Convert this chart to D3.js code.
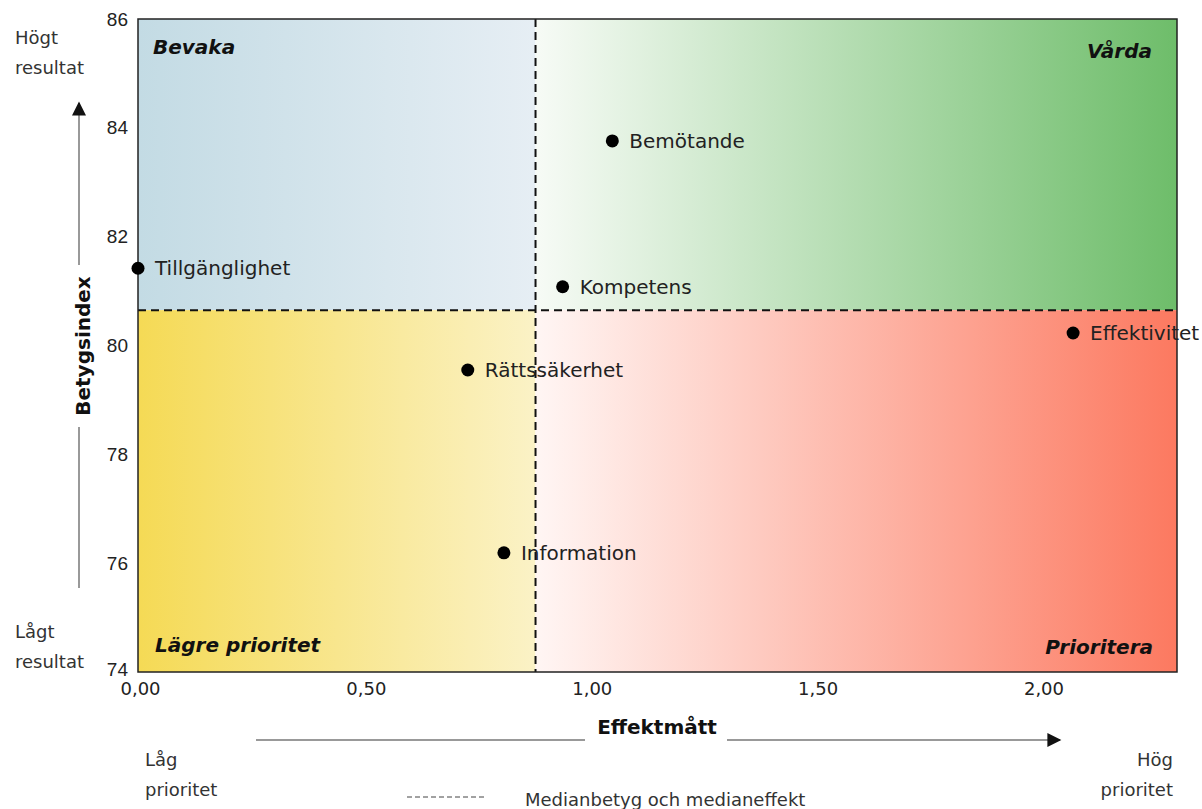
<!DOCTYPE html>
<html lang="sv">
<head>
<meta charset="UTF-8">
<title>Prioriteringsmatris</title>
<script src="https://d3js.org/d3.v7.min.js"></script>
<style>
  body { margin: 0; background: #fff; }
  svg text { font-family: "DejaVu Sans", Verdana, sans-serif; fill: #222; }
  .ytick text { font-family: "Liberation Sans", Arial, sans-serif; }
</style>
</head>
<body>
<svg width="1202" height="809"></svg>
<script>
// data
var categories = ["Tillgänglighet", "Bemötande", "Kompetens", "Effektivitet", "Rättssäkerhet", "Information"];
var effekt     = [0.00, 1.05, 0.94, 2.07, 0.73, 0.81];
var betyg      = [81.42, 83.76, 81.08, 80.23, 79.55, 76.19];
var medianEffekt = 0.88;
var medianBetyg  = 80.65;
var xTicks = [0, 0.5, 1, 1.5, 2];
var yTicks = [74, 76, 78, 80, 82, 84, 86];
var quadrantNames = ["Bevaka", "Vårda", "Lägre prioritet", "Prioritera"];

var svg = d3.select("svg");
var plotLeft = 138, plotRight = 1177, plotTop = 19, plotBottom = 672;

var x = d3.scaleLinear().domain([0, 2.3]).range([plotLeft, plotRight]);
var y = d3.scaleLinear().domain([74, 86]).range([plotBottom, plotTop]);

var sv = d3.formatLocale({decimal: ",", thousands: " ", grouping: [3], currency: ["", " kr"]});
var fmt = sv.format(".2f");

// gradients for the four quadrants
var defs = svg.append("defs");
function grad(id, c0, c1) {
    var g = defs.append("linearGradient").attr("id", id)
        .attr("x1", "0").attr("x2", "1").attr("y1", "0").attr("y2", "0");
    g.append("stop").attr("offset", "0").attr("stop-color", c0);
    g.append("stop").attr("offset", "1").attr("stop-color", c1);
}
grad("gTL", "#c3dbe4", "#e6eef4");
grad("gTR", "#f7fbf6", "#6ebd6a");
grad("gBL", "#f5da55", "#fbf2c6");
grad("gBR", "#fff6f4", "#fc7960");

var mx = x(medianEffekt), my = y(medianBetyg);
var quads = [
    {x0: plotLeft, x1: mx, y0: plotTop, y1: my, fill: "url(#gTL)"},
    {x0: mx, x1: plotRight, y0: plotTop, y1: my, fill: "url(#gTR)"},
    {x0: plotLeft, x1: mx, y0: my, y1: plotBottom, fill: "url(#gBL)"},
    {x0: mx, x1: plotRight, y0: my, y1: plotBottom, fill: "url(#gBR)"}
];
svg.selectAll("rect.quad").data(quads).enter().append("rect")
    .attr("class", "quad")
    .attr("x", function(d) { return d.x0; })
    .attr("y", function(d) { return d.y0; })
    .attr("width", function(d) { return d.x1 - d.x0; })
    .attr("height", function(d) { return d.y1 - d.y0; })
    .attr("fill", function(d) { return d.fill; });

// median lines
svg.append("line").attr("x1", mx).attr("x2", mx).attr("y1", plotTop).attr("y2", plotBottom)
    .attr("stroke", "#111").attr("stroke-width", 2).attr("stroke-dasharray", "8,5");
svg.append("line").attr("x1", plotLeft).attr("x2", plotRight).attr("y1", my).attr("y2", my)
    .attr("stroke", "#111").attr("stroke-width", 2).attr("stroke-dasharray", "8,5");

// frame
svg.append("rect").attr("x", plotLeft).attr("y", plotTop)
    .attr("width", plotRight - plotLeft).attr("height", plotBottom - plotTop)
    .attr("fill", "none").attr("stroke", "#222").attr("stroke-width", 1.5);

// quadrant names
var qpos = [
    {x: 153, y: 54, anchor: "start"},
    {x: 1152, y: 58, anchor: "end"},
    {x: 155, y: 652, anchor: "start"},
    {x: 1153, y: 654, anchor: "end"}
];
svg.selectAll("text.qname").data(quadrantNames).enter().append("text")
    .attr("class", "qname")
    .attr("x", function(d, i) { return qpos[i].x; })
    .attr("y", function(d, i) { return qpos[i].y; })
    .attr("text-anchor", function(d, i) { return qpos[i].anchor; })
    .style("font-size", "20px").style("font-weight", "bold").style("font-style", "italic")
    .style("fill", "#111")
    .text(function(d) { return d; });

// axes
var yAxis = svg.append("g").attr("class", "ytick")
    .attr("transform", "translate(" + plotLeft + ",0)")
    .call(d3.axisLeft(y).tickValues(yTicks).tickSize(0).tickPadding(10).tickFormat(d3.format("d")));
yAxis.select(".domain").remove();
yAxis.selectAll("text").style("font-size", "19px").style("fill", "#222");
// the lowest label sits a little higher so it clears the 0,00 label
yAxis.selectAll(".tick").filter(function(d) { return d === 74; }).select("text").attr("dy", "0.2em");

var xAxis = svg.append("g")
    .attr("transform", "translate(0," + plotBottom + ")")
    .call(d3.axisBottom(x).tickValues(xTicks).tickSize(0).tickPadding(10).tickFormat(fmt));
xAxis.select(".domain").remove();
xAxis.selectAll("text").style("font-size", "18px").style("fill", "#222").attr("dx", "2");

// points
var pts = categories.map(function(c, i) { return {name: c, e: effekt[i], b: betyg[i]}; });
svg.selectAll("circle.pt").data(pts).enter().append("circle")
    .attr("class", "pt")
    .attr("cx", function(d) { return x(d.e); })
    .attr("cy", function(d) { return y(d.b); })
    .attr("r", 6.5).attr("fill", "#000");
svg.selectAll("text.lbl").data(pts).enter().append("text")
    .attr("class", "lbl")
    .attr("x", function(d) { return x(d.e) + 17; })
    .attr("y", function(d) { return y(d.b) + 7; })
    .style("font-size", "20px")
    .text(function(d) { return d.name; });

// arrows
defs.append("marker").attr("id", "arrow").attr("viewBox", "0 0 10 10")
    .attr("refX", 9).attr("refY", 5)
    .attr("markerUnits", "userSpaceOnUse").attr("orient", "auto")
    .attr("markerWidth", 16).attr("markerHeight", 14)
    .append("path").attr("d", "M0,0 L10,5 L0,10 z").attr("fill", "#111");

svg.append("line").attr("x1", 79).attr("x2", 79).attr("y1", 588).attr("y2", 427).attr("stroke", "#777").attr("stroke-width", 1.5);
svg.append("line").attr("x1", 79).attr("x2", 79).attr("y1", 265).attr("y2", 103).attr("stroke", "#777").attr("stroke-width", 1.5)
    .attr("marker-end", "url(#arrow)");
svg.append("text").attr("transform", "translate(90,346) rotate(-90)")
    .attr("text-anchor", "middle").style("font-size", "20px").style("font-weight", "bold").style("fill", "#111")
    .text("Betygsindex");

svg.append("line").attr("x1", 256).attr("x2", 585).attr("y1", 740).attr("y2", 740).attr("stroke", "#777").attr("stroke-width", 1.5);
svg.append("line").attr("x1", 727).attr("x2", 1060).attr("y1", 740).attr("y2", 740).attr("stroke", "#777").attr("stroke-width", 1.5)
    .attr("marker-end", "url(#arrow)");
svg.append("text").attr("x", 657).attr("y", 734)
    .attr("text-anchor", "middle").style("font-size", "20px").style("font-weight", "bold").style("fill", "#111")
    .text("Effektmått");

// end annotations
function twoLine(xp, y0, lines, anchor) {
    var t = svg.append("text").attr("text-anchor", anchor).style("font-size", "18px").style("fill", "#333");
    lines.forEach(function(s, i) {
        t.append("tspan").attr("x", xp).attr("y", y0 + i * 30).text(s);
    });
}
twoLine(15, 44, ["Högt", "resultat"], "start");
twoLine(15, 638, ["Lågt", "resultat"], "start");
twoLine(145, 766, ["Låg", "prioritet"], "start");
twoLine(1173, 766, ["Hög", "prioritet"], "end");

// legend
svg.append("line").attr("x1", 407).attr("x2", 487).attr("y1", 797).attr("y2", 797)
    .attr("stroke", "#444").attr("stroke-width", 1).attr("stroke-dasharray", "5,3");
svg.append("text").attr("x", 525).attr("y", 806).style("font-size", "18px").style("fill", "#333")
    .text("Medianbetyg och medianeffekt");
</script>
</body>
</html>
